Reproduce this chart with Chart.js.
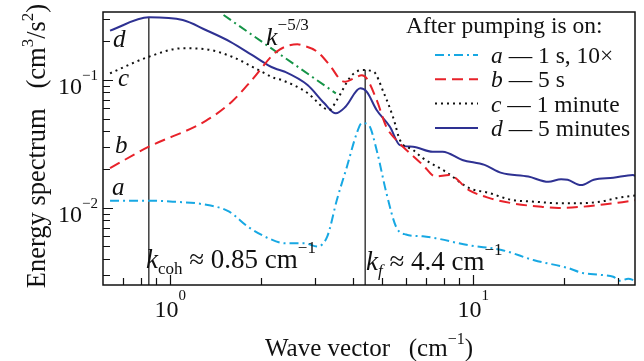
<!DOCTYPE html>
<html>
<head>
<meta charset="utf-8">
<script src="https://cdn.jsdelivr.net/npm/chart.js@4"></script>
<style>
  html, body { margin: 0; padding: 0; background: #fff; }
</style>
</head>
<body>
<canvas id="spectrum" width="644" height="361"></canvas>
<script>
// wave vector k (cm^-1) and energy spectrum E (cm^3/s^2)
const kA = [0.633, 0.85, 1.02, 1.28, 1.56, 1.81, 2.11, 2.39, 2.77, 3.06, 3.30, 3.55, 3.83, 4.13, 4.29, 4.52, 4.80, 5.17, 5.57, 6.00, 6.82, 7.52, 9.70, 12.4, 15.9, 20.5, 23.0, 26.3, 29.0, 30.6, 32.5, 34.2];
const eA = [0.0114, 0.0114, 0.0112, 0.0107, 0.0094, 0.0071, 0.0058, 0.0053, 0.0053, 0.0050, 0.0060, 0.0116, 0.0210, 0.0385, 0.0461, 0.0445, 0.0284, 0.0131, 0.0071, 0.0062, 0.0060, 0.0058, 0.0051, 0.0047, 0.0039, 0.0034, 0.0031, 0.0030, 0.0029, 0.0027, 0.0028, 0.0027];

const kB = [0.633, 0.85, 1.31, 1.60, 1.88, 2.24, 2.63, 2.71, 3.06, 3.39, 3.65, 3.79, 4.04, 4.29, 4.45, 4.80, 5.17, 5.57, 6.17, 6.82, 7.52, 8.33, 9.68, 11.25, 13.4, 16.8, 19.1, 22.7, 26.3, 30.0, 34.2];
const eB = [0.0205, 0.0301, 0.0479, 0.068, 0.103, 0.166, 0.190, 0.1875, 0.166, 0.127, 0.100, 0.097, 0.103, 0.109, 0.103, 0.070, 0.043, 0.034, 0.0269, 0.0217, 0.0176, 0.0181, 0.0138, 0.0120, 0.0109, 0.0102, 0.0100, 0.0102, 0.0106, 0.0110, 0.0115];

const kC = [0.633, 0.85, 1.10, 1.31, 1.60, 1.91, 2.22, 2.33, 2.84, 3.22, 3.35, 3.55, 3.94, 4.29, 4.69, 5.05, 5.45, 5.73, 6.33, 6.82, 8.11, 9.70, 11.27, 13.4, 15.9, 19.1, 22.1, 26.3, 30.0, 34.2];
const eC = [0.1128, 0.152, 0.177, 0.174, 0.152, 0.1233, 0.1031, 0.100, 0.0791, 0.0604, 0.0583, 0.0698, 0.1061, 0.1197, 0.1161, 0.0811, 0.0505, 0.034, 0.0284, 0.0245, 0.0192, 0.0143, 0.0131, 0.01155, 0.0112, 0.0109, 0.0109, 0.0112, 0.0120, 0.0125];

const kD = [0.633, 0.85, 1.10, 1.31, 1.58, 1.86, 2.10, 2.22, 2.39, 2.84, 3.22, 3.52, 3.79, 4.24, 4.45, 4.80, 5.31, 5.73, 6.33, 7.35, 7.93, 9.21, 10.9, 12.4, 15.2, 17.7, 19.5, 20.5, 22.7, 25.0, 29.0, 33.7, 34.2];
const eD = [0.243, 0.309, 0.294, 0.246, 0.199, 0.157, 0.131, 0.123, 0.116, 0.0914, 0.0661, 0.0549, 0.0618, 0.0861, 0.0811, 0.0583, 0.0431, 0.0310, 0.0301, 0.0275, 0.0275, 0.0237, 0.0217, 0.0188, 0.0176, 0.0160, 0.0168, 0.0166, 0.0151, 0.0166, 0.0172, 0.0181, 0.0178];

// k^-5/3 guide line, its two ends
const kSlope = [1.50, 3.52];
const eSlope = [0.322, 0.0787];

// marked wave vectors and where their vertical lines stop
const kMarks = [0.85, 4.4];
const kMarkTops = [0.309, 0.12];

// axis range and ticks
const kRange = [0.633, 34.2];
const eRange = [0.0025, 0.34];
const kMajor = [1, 10];
const kMajorExp = ['0', '1'];
const kMinor = [0.7, 0.8, 0.9, 2, 3, 4, 5, 6, 7, 8, 9, 20, 30];
const eMajor = [0.01, 0.1];
const eMajorExp = ['\u22122', '\u22121'];
const eMinor = [0.003, 0.004, 0.005, 0.006, 0.007, 0.008, 0.009, 0.02, 0.03, 0.04, 0.05, 0.06, 0.07, 0.08, 0.09, 0.2, 0.3];

const letters = ['a', 'b', 'c', 'd'];
const legendText = ['1 s, 10\u00d7', '5 s', '1 minute', '5 minutes'];
const colors = ['#17a8e3', '#e8222a', '#111111', '#2e3192'];
const dashes = [[9, 4, 2, 4], [11, 6], [2, 4], []];

const serif = '"Liberation Serif", "Times New Roman", serif';

function pts(xs, ys) {
  return xs.map((x, i) => ({ x: x, y: ys[i] }));
}

const curves = [pts(kA, eA), pts(kB, eB), pts(kC, eC), pts(kD, eD)];

const datasets = curves.map((d, i) => ({
  label: letters[i],
  data: d,
  borderColor: colors[i],
  borderDash: dashes[i],
  borderWidth: 2,
  pointRadius: 0,
  cubicInterpolationMode: 'monotone',
  fill: false
}));

datasets.push({
  label: 'slope',
  data: pts(kSlope, eSlope),
  borderColor: '#159447',
  borderDash: [9, 4, 2, 4],
  borderWidth: 2,
  pointRadius: 0
});

kMarks.forEach((k, i) => {
  datasets.push({
    label: 'mark' + i,
    data: [{ x: k, y: eRange[0] }, { x: k, y: kMarkTops[i] }],
    borderColor: '#222',
    borderWidth: 1.3,
    pointRadius: 0
  });
});

// draw a line of text made of pieces with their own font and raise
function rich(ctx, x, y, parts, align) {
  let w = 0;
  parts.forEach(p => {
    ctx.font = p.font;
    p.w = ctx.measureText(p.text).width;
    w += p.w;
  });
  let cx = align === 'center' ? x - w / 2 : align === 'right' ? x - w : x;
  parts.forEach(p => {
    ctx.font = p.font;
    ctx.fillText(p.text, cx, y + (p.dy || 0));
    cx += p.w;
  });
}

const F = (size, italic) => (italic ? 'italic ' : '') + size + 'px ' + serif;

const decor = {
  id: 'decor',
  afterDraw(chart) {
    const ctx = chart.ctx;
    const a = chart.chartArea;
    const xs = chart.scales.x;
    const ys = chart.scales.y;
    ctx.save();
    ctx.fillStyle = '#111';
    ctx.strokeStyle = '#111';
    ctx.textBaseline = 'alphabetic';

    // frame
    ctx.lineWidth = 1.5;
    ctx.strokeRect(a.left, a.top, a.right - a.left, a.bottom - a.top);

    // inward ticks, bottom and left
    ctx.lineWidth = 1.2;
    ctx.beginPath();
    kMajor.concat(kMinor).forEach((v, i) => {
      const px = Math.round(xs.getPixelForValue(v)) + 0.5;
      ctx.moveTo(px, a.bottom);
      ctx.lineTo(px, a.bottom - (i < kMajor.length ? 10 : 7));
    });
    eMajor.concat(eMinor).forEach((v, i) => {
      const py = Math.round(ys.getPixelForValue(v)) + 0.5;
      ctx.moveTo(a.left, py);
      ctx.lineTo(a.left + (i < eMajor.length ? 10 : 7), py);
    });
    ctx.stroke();

    // tick labels
    kMajor.forEach((v, i) => {
      const px = xs.getPixelForValue(v);
      rich(ctx, px, a.bottom + 32, [
        { text: '10', font: F(24) },
        { text: kMajorExp[i], font: F(15), dy: -17 }
      ], 'center');
    });
    eMajor.forEach((v, i) => {
      const py = ys.getPixelForValue(v);
      rich(ctx, a.left - 5, py + 14, [
        { text: '10', font: F(24) },
        { text: eMajorExp[i], font: F(15), dy: -14 }
      ], 'right');
    });

    // axis titles
    rich(ctx, (a.left + a.right) / 2, 356, [
      { text: 'Wave vector\u2002 (cm', font: F(25) },
      { text: '\u22121', font: F(16), dy: -12 },
      { text: ')', font: F(25) }
    ], 'center');
    ctx.save();
    ctx.translate(45, 146);
    ctx.rotate(-Math.PI / 2);
    rich(ctx, 0, 0, [
      { text: 'Energy spectrum\u2002 (cm', font: F(26.5) },
      { text: '3', font: F(17), dy: -12 },
      { text: '/s', font: F(26.5) },
      { text: '2', font: F(17), dy: -12 },
      { text: ')', font: F(26.5) }
    ], 'center');
    ctx.restore();

    // curve letters at the left edge
    const letterPos = [[112, 195], [115, 153], [118, 86], [113, 47]];
    letters.forEach((l, i) => {
      ctx.font = F(25, true);
      ctx.fillText(l, letterPos[i][0], letterPos[i][1]);
    });

    // k^-5/3
    rich(ctx, 266, 45, [
      { text: 'k', font: F(26, true) },
      { text: '\u22125/3', font: F(17), dy: -15 }
    ], 'left');

    // marked wave vectors
    rich(ctx, 146, 268, [
      { text: 'k', font: F(27, true) },
      { text: 'coh', font: F(17), dy: 6 },
      { text: ' \u2248 0.85 cm', font: F(27) },
      { text: '\u22121', font: F(17), dy: -15 }
    ], 'left');
    rich(ctx, 366, 270, [
      { text: 'k', font: F(27, true) },
      { text: 'f', font: F(17, true), dy: 6 },
      { text: ' \u2248 4.4 cm', font: F(27) },
      { text: '\u22121', font: F(17), dy: -15 }
    ], 'left');

    // legend
    ctx.font = F(23.5);
    ctx.fillText('After pumping is on:', 406, 33);
    letters.forEach((l, i) => {
      const y = 55 + i * 24.3;
      ctx.save();
      ctx.strokeStyle = colors[i];
      ctx.lineWidth = 2;
      ctx.setLineDash(dashes[i]);
      ctx.beginPath();
      ctx.moveTo(435, y);
      ctx.lineTo(478, y);
      ctx.stroke();
      ctx.restore();
      rich(ctx, 491, y + 8, [
        { text: l, font: F(23.5, true) },
        { text: ' \u2014 ' + legendText[i], font: F(23.5) }
      ], 'left');
    });

    ctx.restore();
  }
};

new Chart(document.getElementById('spectrum'), {
  type: 'line',
  data: { datasets: datasets },
  options: {
    responsive: false,
    animation: false,
    devicePixelRatio: 1,
    layout: { padding: { left: 103, top: 12, right: 9, bottom: 76 } },
    plugins: { legend: { display: false }, tooltip: { enabled: false } },
    scales: {
      x: { type: 'logarithmic', min: kRange[0], max: kRange[1], display: false },
      y: { type: 'logarithmic', min: eRange[0], max: eRange[1], display: false }
    }
  },
  plugins: [decor]
});
</script>
</body>
</html>
